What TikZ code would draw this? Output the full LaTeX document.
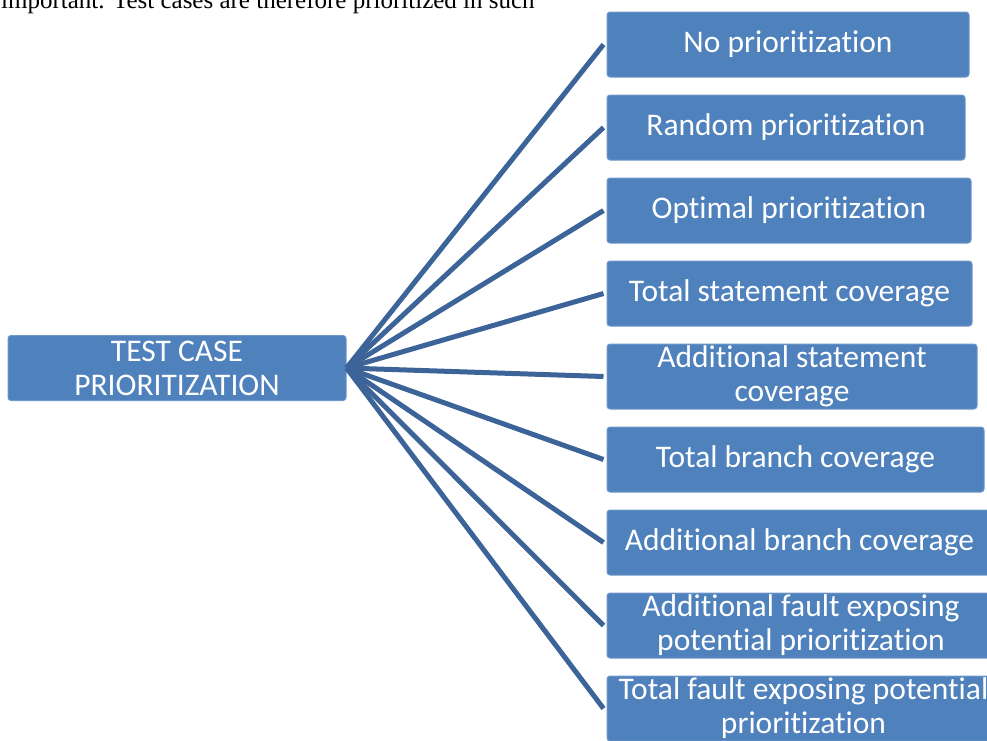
\documentclass[tikz,border=0pt]{standalone}
\usepackage{fontspec}
\setmainfont[Ligatures=NoCommon]{Carlito}
\newfontfamily\bodyfont{Liberation Serif}
\usepackage{xcolor}
\definecolor{boxblue}{RGB}{79,129,189}
\definecolor{boxedge}{RGB}{112,152,204}
\definecolor{linkblue}{RGB}{60,100,152}

\begin{document}
\begin{tikzpicture}[x=1pt, y=-1pt,
		tcbox/.style={fill=boxblue, draw=boxedge, line width=1pt, rounded corners=3pt,
			minimum height=65pt, inner sep=0pt, text=white, align=center,
			font=\fontsize{31.5}{34}\selectfont},
		link/.style={linkblue, line width=5pt}]
		\useasboundingbox (0,0) rectangle (987,740);
		\clip (0,0) rectangle (987,740);
		\node[anchor=base west, font=\bodyfont\fontsize{25}{28}\selectfont, inner sep=0pt] (para) at (1,8) {important. Test cases are therefore prioritized in such};
		\node[tcbox, minimum width=338pt] (root) at (177,368) {TEST CASE\\PRIORITIZATION};
		\node[tcbox, minimum width=362pt] (b1) at (788,44.5) {No prioritization};
		\node[tcbox, minimum width=358pt] (b2) at (786,127.5) {Random prioritization};
		\node[tcbox, minimum width=364pt] (b3) at (789,210.5) {Optimal prioritization};
		\node[tcbox, minimum width=365pt] (b4) at (789.5,293.5) {Total statement coverage};
		\node[tcbox, minimum width=370pt] (b5) at (792,376.5) {Additional statement\\coverage};
		\node[tcbox, minimum width=377pt] (b6) at (795.5,459.5) {Total branch coverage};
		\node[tcbox, minimum width=385pt] (b7) at (799.5,542.5) {Additional branch coverage};
		\node[tcbox, minimum width=388pt] (b8) at (801,625.5) {Additional fault exposing\\potential prioritization};
		\node[tcbox, minimum width=393pt] (b9) at (803.5,708.5) {Total fault exposing potential\\prioritization};
		\foreach \b in {b1,b2,b3,b4,b5,b6,b7,b8,b9}
			\draw[link] (root.east) -- ([xshift=-3pt]\b.west);
	\end{tikzpicture}
\end{document}
